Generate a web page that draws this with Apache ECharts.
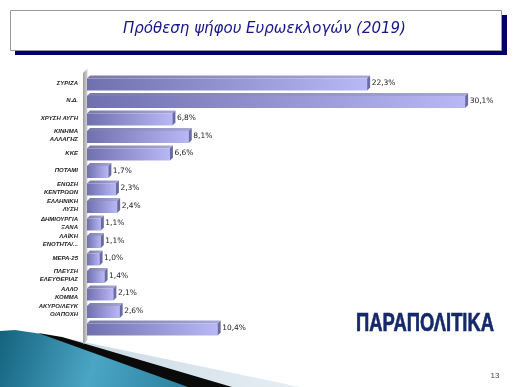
<!DOCTYPE html>
<html><head><meta charset="utf-8">
<script src="https://cdn.jsdelivr.net/npm/echarts@6/dist/echarts.min.js"></script>
<style>html,body{margin:0;padding:0;background:#fff}#c{width:516px;height:387px}</style>
</head><body><div id="c"></div>
<script>
const categories = ['ΣΥΡΙΖΑ','Ν.Δ.','ΧΡΥΣΗ ΑΥΓΗ','ΚΙΝΗΜΑ\nΑΛΛΑΓΗΣ','ΚΚΕ','ΠΟΤΑΜΙ','ΕΝΩΣΗ\nΚΕΝΤΡΩΩΝ','ΕΛΛΗΝΙΚΗ\nΛΥΣΗ','ΔΗΜΙΟΥΡΓΙΑ\nΞΑΝΑ','ΛΑΪΚΗ\nΕΝΟΤΗΤΑ/...','ΜΕΡΑ-25','ΠΛΕΥΣΗ\nΕΛΕΥΘΕΡΙΑΣ','ΑΛΛΟ\nΚΟΜΜΑ','ΑΚΥΡΟ/ΛΕΥΚ\nΟ/ΑΠΟΧΗ','ΑΝΑΠΟΦΑΣΙ\nΣΤΟΙ'];
const values = [22.3,30.1,6.8,8.1,6.6,1.7,2.3,2.4,1.1,1.1,1.0,1.4,2.1,2.6,10.4];
const titleText = 'Πρόθεση ψήφου Ευρωεκλογών (2019)';
const logoText = 'ΠΑΡΑΠΟΛΙΤΙΚΑ';
const pageNumber = '13';

function measure(text, font){
  const ctx = document.createElement('canvas').getContext('2d');
  ctx.font = font; return ctx.measureText(text).width;
}
const titleFamily = '"DejaVu Sans", Verdana, sans-serif';
const titleSize = Math.min(18, 16 * 283 / measure(titleText, 'italic 16px ' + titleFamily));
const logoFamily = '"Liberation Sans Narrow", "Arial Narrow", "Liberation Sans", sans-serif';
const logoScale = 138 / measure(logoText, 'bold 25px ' + logoFamily);

const chart = echarts.init(document.getElementById('c'), null, {renderer:'canvas'});
const fmt = v => v.toFixed(1).replace('.', ',') + '%';

function renderItem(params, api){
  const v = api.value(0), i = api.value(1);
  const p0 = api.coord([0, i]), p1 = api.coord([v, i]);
  const band = api.size([0, 1])[1];
  const c = p0[1];
  const top = c - 4.5/17.5*band, bottom = c + 7.5/17.5*band;
  const d = 3;
  const x0 = p0[0], x1 = p1[0];
  return {
    type: 'group',
    children: [
      {type:'polygon', shape:{points:[[x0,top],[x1,top],[x1+d,top-d],[x0+d,top-d]]},
        style:{fill: new echarts.graphic.LinearGradient(0,0,1,0,[{offset:0,color:'#7a7aa8'},{offset:1,color:'#a8a8d8'}])}},
      {type:'rect', shape:{x:x0, y:top, width:x1-x0, height:bottom-top},
        style:{fill: new echarts.graphic.LinearGradient(0,0,1,0,[{offset:0,color:'#7070ae'},{offset:1,color:'#b8b8f6'}])}},
      {type:'polygon', shape:{points:[[x1,top],[x1+d,top-d],[x1+d,bottom-d],[x1,bottom]]},
        style:{fill:'#6a6aa4'}},
      {type:'text', style:{x:x1+d+1.5, y:(top+bottom)/2 - 1, text: fmt(v), align:'left', verticalAlign:'middle',
        font:'7.5px "DejaVu Sans", Verdana, sans-serif', fill:'#222'}}
    ]
  };
}

chart.setOption({
  backgroundColor:'#fff',
  animation:false,
  grid:{left:87, top:74.25, width:402, height:262.5, containLabel:false},
  xAxis:{type:'value', min:0, max:32, show:false},
  yAxis:{type:'category', data:categories, inverse:true,
    axisLine:{show:false}, axisTick:{show:false}, splitLine:{show:false},
    axisLabel:{margin:9, fontSize:6, fontStyle:'italic', fontWeight:'bold', lineHeight:8,
      fontFamily:'"Liberation Sans Narrow", "Arial Narrow", "Liberation Sans", sans-serif', color:'#222', padding:[3,0,0,0]}},
  series:[{type:'custom', renderItem, encode:{x:0, y:1}, z:5,
    data: values.map((v,i)=>[v,i])}],
  graphic:[
    {type:'polygon', z:0, shape:{points:[[60,337],[300,387],[228,387]]},
      style:{fill:new echarts.graphic.LinearGradient(0,0,1,0,[{offset:0,color:'#c9d9e4'},{offset:1,color:'#e6eef3'}])}},
    {type:'polygon', z:0, shape:{points:[[0,331],[15,330],[42,334],[190,387],[0,387]]},
      style:{fill:new echarts.graphic.LinearGradient(0,0,1,1,[{offset:0,color:'#14627e'},{offset:0.5,color:'#4aa6c4'},{offset:1,color:'#2a7f9e'}])}},
    {type:'polygon', z:1, shape:{points:[[38,333],[62,337],[232,387],[188,387]]}, style:{fill:'#0a0a0a'}},
    {type:'polygon', z:1, shape:{points:[[83,73],[87.5,68.5],[87.5,340],[83,344.5]]},
      style:{fill:new echarts.graphic.LinearGradient(0,0,1,0,[{offset:0,color:'#9c9c9c'},{offset:1,color:'#d6d6d6'}])}},
    {type:'rect', z:1, shape:{x:15, y:15, width:492, height:40}, style:{fill:'#000066'}},
    {type:'rect', z:2, shape:{x:10.5, y:10.5, width:491, height:40}, style:{fill:'#fff', stroke:'#9a9a9a', lineWidth:1}},
    {type:'text', z:3, style:{x:264.5, y:29.5, text:titleText, align:'center', verticalAlign:'middle',
      font:'italic ' + titleSize.toFixed(2) + 'px ' + titleFamily, fill:'#16168a'}},
    {type:'text', z:3, x:356, y:324, scaleX:logoScale, originX:0, originY:0,
      style:{x:0, y:0, text:logoText, align:'left', verticalAlign:'middle', font:'bold 25px ' + logoFamily,
        fill:'#14286a', stroke:'#14286a', lineWidth:0.6}},
    {type:'text', z:3, style:{x:495, y:376, text:pageNumber, align:'center', verticalAlign:'middle',
      font:'8px "Liberation Sans", Arial, sans-serif', fill:'#444'}}
  ]
});
</script></body></html>
